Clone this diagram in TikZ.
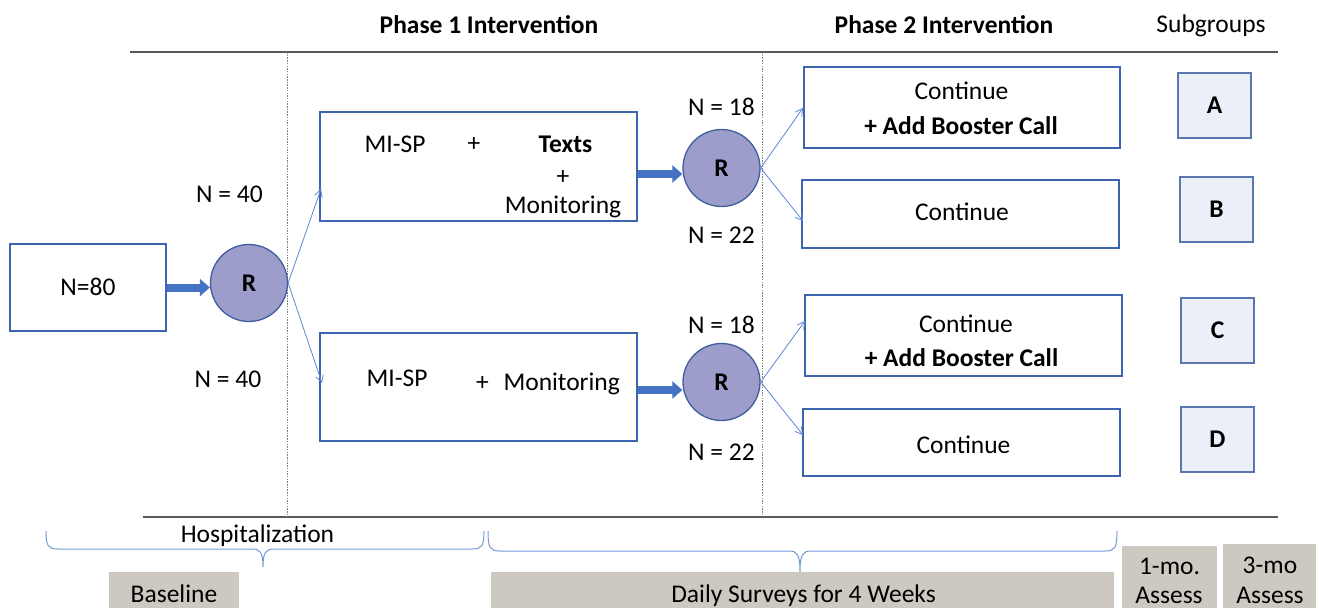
\documentclass[tikz,border=0pt]{standalone}
\usepackage{fontspec}
\setmainfont{Carlito}
\usetikzlibrary{arrows.meta}
\definecolor{boxline}{HTML}{3D65AF}
\definecolor{circfill}{HTML}{9D9DCC}
\definecolor{circline}{HTML}{3F5D9C}
\definecolor{flow}{HTML}{4472C4}
\definecolor{thinflow}{HTML}{5B86D4}
\definecolor{subfill}{HTML}{ECEFF7}
\definecolor{subline}{HTML}{5877AE}
\definecolor{greyfill}{HTML}{CDC9C1}
\definecolor{rulecol}{HTML}{595959}
\definecolor{bracecol}{HTML}{7398D8}
\begin{document}
\begin{tikzpicture}[x=1pt,y=-1pt,
  every node/.style={font=\fontsize{25.5}{30}\selectfont},
  txt/.style={anchor=base, inner sep=0pt},
  boldtxt/.style={txt, font=\fontsize{25.5}{30}\selectfont\bfseries},
  stagebox/.style={draw=boxline, line width=1.3pt, fill=white, inner sep=0pt},
  rand/.style={circle, draw=circline, fill=circfill, line width=1.3pt,
    minimum size=77pt, inner sep=0pt, font=\fontsize{25.5}{30}\selectfont\bfseries},
  subbox/.style={draw=subline, fill=subfill, line width=1.2pt, minimum width=73pt,
    minimum height=65pt, inner sep=0pt, font=\fontsize{25.5}{30}\selectfont\bfseries},
  timebox/.style={fill=greyfill, inner sep=0pt},
  bigarrow/.style={draw=flow, line width=8pt, -{Triangle[length=10pt 0,width=17pt 0]}},
  thinarrow/.style={draw=thinflow, line width=0.8pt, -{Straight Barb[length=7pt,width=8pt]}},
  rulestyle/.style={draw=rulecol, line width=1.4pt},
  divider/.style={draw=gray, line width=0.7pt, dash pattern=on 1.5pt off 1.2pt},
  bracestyle/.style={draw=bracecol, line width=1pt},
]
\useasboundingbox (0,0) rectangle (1319,608);

% section rules and phase dividers
\draw[rulestyle] (130,52) -- (1278,52);
\draw[rulestyle] (143,517) -- (1278,517);
\draw[divider] (287,52) -- (287,517);
\draw[divider] (762,52) -- (762,517);

% headers
\node[boldtxt] (h1) at (489,33) {Phase 1 Intervention};
\node[boldtxt] (h2) at (944,33) {Phase 2 Intervention};
\node[txt] (h3) at (1211,32) {Subgroups};

% enrolment and first randomisation
\node[stagebox, minimum width=156pt, minimum height=87pt] (n80) at (88,287.5) {};
\node[txt] (tn80) at (88,295) {N=80};
\node[rand] (r1) at (249,283) {R};

% phase 1 arms
\node[stagebox, minimum width=317pt, minimum height=109pt] (p1a) at (478.5,166.5) {};
\node[stagebox, minimum width=317pt, minimum height=108pt] (p1b) at (478.5,387) {};
\node[txt] (a1) at (395,152) {MI-SP};
\node[txt] (a2) at (474,151) {+};
\node[boldtxt] (a3) at (565.5,152) {Texts};
\node[txt] (a4) at (563,184.5) {+};
\node[txt] (a5) at (563,213) {Monitoring};
\node[txt] (b1) at (397,386) {MI-SP};
\node[txt] (b2) at (482.5,390) {+};
\node[txt] (b3) at (561.7,390) {Monitoring};
\node[txt] (n40a) at (229.5,202) {N = 40};
\node[txt] (n40b) at (228,387) {N = 40};

% second randomisations
\node[rand] (r2) at (721.5,168) {R};
\node[rand] (r3) at (721.5,382) {R};
\node[txt] (n18a) at (721.5,115) {N = 18};
\node[txt] (n22a) at (721.5,243) {N = 22};
\node[txt] (n18b) at (721.5,333) {N = 18};
\node[txt] (n22b) at (721.5,460) {N = 22};

% phase 2 arms
\node[stagebox, minimum width=316pt, minimum height=81pt] (p2a) at (962,107.5) {};
\node[stagebox, minimum width=317pt, minimum height=68pt] (p2b) at (960.5,214) {};
\node[stagebox, minimum width=317pt, minimum height=81pt] (p2c) at (963.5,335.5) {};
\node[stagebox, minimum width=317pt, minimum height=67pt] (p2d) at (961.5,442.5) {};
\node[txt] (c1) at (961.5,99) {Continue};
\node[boldtxt] (c2) at (961,134) {+ Add Booster Call};
\node[txt] (c3) at (962,220) {Continue};
\node[txt] (c4) at (966,332) {Continue};
\node[boldtxt] (c5) at (961.5,366) {+ Add Booster Call};
\node[txt] (c6) at (963.5,453) {Continue};

% subgroup labels
\node[subbox] (sa) at (1214.5,105.5) {A};
\node[subbox] (sb) at (1216.5,209.5) {B};
\node[subbox] (sc) at (1217.5,330.5) {C};
\node[subbox] (sd) at (1217.5,439.5) {D};

% flow arrows
\coordinate (s2) at ([yshift=-7.5pt]p1a.east);
\coordinate (s3) at ([yshift=-3pt]p1b.east);
\draw[bigarrow] (n80.east) -- (n80.east -| r1.west);
\draw[bigarrow] (s2) -- (s2 -| r2.west);
\draw[bigarrow] (s3) -- (s3 -| r3.west);

\coordinate (e1) at (321,189);
\coordinate (e2) at (322,383);
\coordinate (e3) at (803,108);
\coordinate (e4) at (803,221);
\coordinate (e5) at (805,321);
\coordinate (e6) at (803,435);
\draw[thinarrow] (r1.east) -- (e1);
\draw[thinarrow] (r1.east) -- (e2);
\draw[thinarrow] (r2.east) -- (e3);
\draw[thinarrow] (r2.east) -- (e4);
\draw[thinarrow] (r3.east) -- (e5);
\draw[thinarrow] (r3.east) -- (e6);

% timeline braces
\draw[bracestyle] (46,531) .. controls (46,546) and (48,549) .. (58,549) -- (252,549)
  .. controls (260,549) and (263,552) .. (263,567)
  .. controls (263,552) and (266,549) .. (274,549) -- (472,549)
  .. controls (482,549) and (484,546) .. (484,531);
\draw[bracestyle] (488,531) .. controls (488,548) and (490,551) .. (500,551) -- (789,551)
  .. controls (797,551) and (800,554) .. (800,572)
  .. controls (800,554) and (803,551) .. (811,551) -- (1105,551)
  .. controls (1115,551) and (1117,548) .. (1117,531);
\node[txt] (hosp) at (257.5,542) {Hospitalization};

% assessment schedule
\node[timebox, minimum width=130pt, minimum height=36pt] (tb1) at (174,590) {};
\node[timebox, minimum width=623pt, minimum height=36pt] (tb2) at (802.5,590) {};
\node[timebox, minimum width=95pt, minimum height=62pt] (tb3) at (1169.5,577) {};
\node[timebox, minimum width=93pt, minimum height=64pt] (tb4) at (1269.5,576) {};
\node[txt] (d1) at (174,602) {Baseline};
\node[txt] (d2) at (803.5,602) {Daily Surveys for 4 Weeks};
\node[txt] (d3) at (1169.5,574) {1-mo.};
\node[txt] (d4) at (1169,603.5) {Assess};
\node[txt] (d5) at (1270,573) {3-mo};
\node[txt] (d6) at (1270,603.5) {Assess};
\end{tikzpicture}
\end{document}
